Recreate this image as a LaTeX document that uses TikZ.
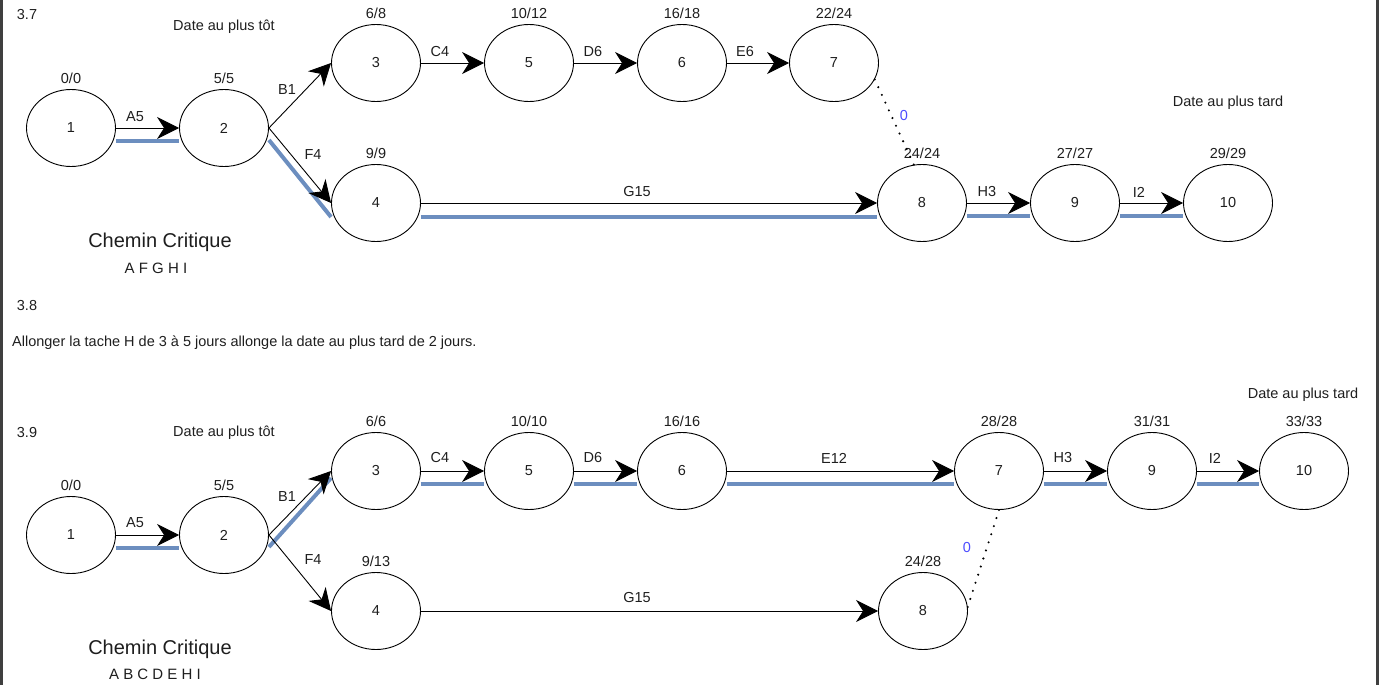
\documentclass[tikz,border=0pt]{standalone}
\usepackage{fontspec}
\setmainfont{Liberation Sans}
\usetikzlibrary{shapes.geometric,arrows.meta}
\definecolor{critblue}{HTML}{6C8EBF}
\definecolor{txt}{HTML}{1E1E1E}
\definecolor{zeroblue}{HTML}{4D4DFF}
\definecolor{framegray}{HTML}{3F3F3F}
\newcommand{\fs}{\fontsize{14.5}{17}\selectfont}
\begin{document}
\begin{tikzpicture}[x=1pt,y=-1pt,
  ev/.style={ellipse, draw=black, line width=0.9pt, minimum width=89pt, minimum height=77pt, inner sep=0pt, text=txt, font=\fs},
  lab/.style={font=\fs, text=txt, inner sep=0pt, text height=10.5pt, text depth=0pt, label distance=5pt},
  el/.style={font=\fs, text=txt, inner sep=1pt},
  tx/.style={font=\fs, text=txt, inner sep=0pt},
  arr/.style={draw=black, line width=0.9pt, -{Stealth[length=22pt,width=22pt,inset=7pt]}},
  crit/.style={draw=critblue, line width=4pt},
  dotline/.style={draw=black, line width=2.3pt, dash pattern=on 0pt off 8.5pt, line cap=round},
  zl/.style={font=\fs, text=zeroblue, inner sep=0pt}]
\useasboundingbox (0,0) rectangle (1379,685);
\fill[framegray] (0,0) rectangle (2.5,685);
\fill[framegray] (1375.5,0) rectangle (1379,685);

% ---------- 3.7 ----------
\node[tx] (t37) at (27,15) {3.7};
\node[tx] (tot1) at (224,27) {Date au plus tôt};
\node[tx] (tard1) at (1228,103) {Date au plus tard};
\node[font=\fontsize{20}{24}\selectfont, text=txt, inner sep=0pt] (cc1) at (160,242) {Chemin Critique};
\node[font=\fontsize{15}{17}\selectfont, text=txt, inner sep=0pt] (cp1) at (156,268) {A F G H I};

\node[ev, label={[lab]above:0/0}] (a1) at (71,128) {1};
\node[ev, label={[lab]above:5/5}] (a2) at (224,128) {2};
\node[ev, label={[lab]above:6/8}] (a3) at (376,63) {3};
\node[ev, label={[lab]above:9/9}] (a4) at (376,203) {4};
\node[ev, label={[lab]above:10/12}] (a5) at (529,63) {5};
\node[ev, label={[lab]above:16/18}] (a6) at (682,63) {6};
\node[ev, label={[lab]above:22/24}] (a7) at (834,63) {7};
\node[ev, label={[lab]above:24/24}] (a8) at (922,203) {8};
\node[ev, label={[lab]above:27/27}] (a9) at (1075,203) {9};
\node[ev, label={[lab]above:29/29}] (a10) at (1228,203) {10};

\draw[crit] ([yshift=-13pt]a1.east) -- ([yshift=-13pt]a2.west);
\draw[crit] ([yshift=-12pt]a2.east) -- ([yshift=-14pt]a4.west);
\draw[crit] ([yshift=-14pt]a4.east) -- ([yshift=-14pt]a8.west);
\draw[crit] ([yshift=-13pt]a8.east) -- ([yshift=-13pt]a9.west);
\draw[crit] ([yshift=-13pt]a9.east) -- ([yshift=-13pt]a10.west);

\draw[arr] (a1) -- (a2);
\draw[arr] (a2.east) -- (a3.west);
\draw[arr] (a2.east) -- (a4.west);
\draw[arr] (a3) -- (a5);
\draw[arr] (a5) -- (a6);
\draw[arr] (a6) -- (a7);
\draw[arr] (a4) -- (a8);
\draw[arr] (a8) -- (a9);
\draw[arr] (a9) -- (a10);
\draw[dotline] (a7.-22) -- (a8.102);

\node[el] (la5) at (135,117) {A5};
\node[el] (lb1) at (287,90) {B1};
\node[el] (lf4) at (313,155) {F4};
\node[el] (lc4) at (440,52) {C4};
\node[el] (ld6) at (593,52) {D6};
\node[el] (le6) at (745,52) {E6};
\node[el] (lg15) at (637,192) {G15};
\node[el] (lh3) at (987,192) {H3};
\node[el] (li2) at (1139,192) {I2};
\node[zl] (lz1) at (904,116) {0};

% ---------- 3.8 ----------
\node[tx] (t38) at (27,306) {3.8};
\node[tx, anchor=west] (allong) at (12,343) {Allonger la tache H de 3 à 5 jours allonge la date au plus tard de 2 jours.};

% ---------- 3.9 ----------
\node[tx] (t39) at (27,433) {3.9};
\node[tx] (tot2) at (224,433) {Date au plus tôt};
\node[tx] (tard2) at (1303,395) {Date au plus tard};
\node[font=\fontsize{20}{24}\selectfont, text=txt, inner sep=0pt] (cc2) at (160,649) {Chemin Critique};
\node[font=\fontsize{15}{17}\selectfont, text=txt, inner sep=0pt] (cp2) at (155,674) {A B C D E H I};

\node[ev, label={[lab]above:0/0}] (b1) at (71,535) {1};
\node[ev, label={[lab]above:5/5}] (b2) at (224,535) {2};
\node[ev, label={[lab]above:6/6}] (b3) at (376,471) {3};
\node[ev, label={[lab]above:9/13}] (b4) at (376,611) {4};
\node[ev, label={[lab]above:10/10}] (b5) at (529,471) {5};
\node[ev, label={[lab]above:16/16}] (b6) at (682,471) {6};
\node[ev, label={[lab]above:28/28}] (b7) at (999,471) {7};
\node[ev, label={[lab]above:24/28}] (b8) at (923,611) {8};
\node[ev, label={[lab]above:31/31}] (b9) at (1152,471) {9};
\node[ev, label={[lab]above:33/33}] (b10) at (1304,471) {10};

\draw[crit] ([yshift=-13pt]b1.east) -- ([yshift=-13pt]b2.west);
\draw[crit] ([yshift=-12pt]b2.east) -- ([yshift=-7pt]b3.west);
\draw[crit] ([yshift=-13pt]b3.east) -- ([yshift=-13pt]b5.west);
\draw[crit] ([yshift=-13pt]b5.east) -- ([yshift=-13pt]b6.west);
\draw[crit] ([yshift=-13pt]b6.east) -- ([yshift=-13pt]b7.west);
\draw[crit] ([yshift=-13pt]b7.east) -- ([yshift=-13pt]b9.west);
\draw[crit] ([yshift=-13pt]b9.east) -- ([yshift=-13pt]b10.west);

\draw[arr] (b1) -- (b2);
\draw[arr] (b2.east) -- (b3.west);
\draw[arr] (b2.east) -- (b4.west);
\draw[arr] (b3) -- (b5);
\draw[arr] (b5) -- (b6);
\draw[arr] (b6) -- (b7);
\draw[arr] (b4) -- (b8);
\draw[arr] (b7) -- (b9);
\draw[arr] (b9) -- (b10);
\draw[dotline] (b7.south) -- (b8.5);

\node[el] (mb5) at (135,523) {A5};
\node[el] (mb1) at (287,497) {B1};
\node[el] (mf4) at (313,560) {F4};
\node[el] (mc4) at (440,458) {C4};
\node[el] (md6) at (593,458) {D6};
\node[el] (me12) at (834,458) {E12};
\node[el] (mg15) at (637,598) {G15};
\node[el] (mh3) at (1063,458) {H3};
\node[el] (mi2) at (1215,458) {I2};
\node[zl] (mz) at (967,548) {0};
\end{tikzpicture}
\end{document}
